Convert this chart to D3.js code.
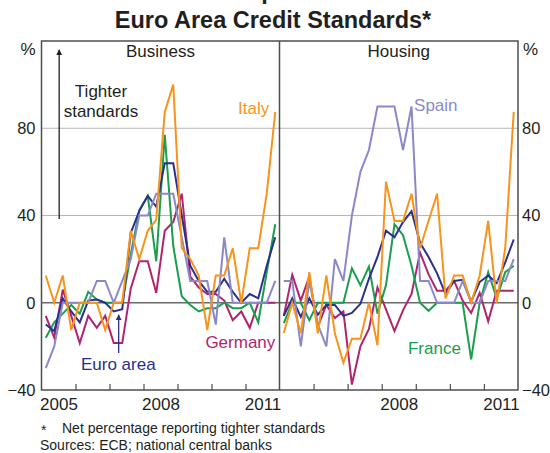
<!DOCTYPE html>
<html>
<head>
<meta charset="utf-8">
<script src="https://cdn.jsdelivr.net/npm/d3@7"></script>
<style>
  html, body { margin: 0; padding: 0; background: #fff; }
  svg { display: block; font-family: Arial, 'Liberation Sans', sans-serif; }
</style>
</head>
<body>
<div id="chart"></div>
<script>
/* =========================================
   Euro Area Credit Standards — two panels
   Business / Housing, quarterly net %
   ========================================= */

const quarters = [
  '2005Q1', '2005Q2', '2005Q3', '2005Q4', '2006Q1', '2006Q2', '2006Q3', '2006Q4',
  '2007Q1', '2007Q2', '2007Q3', '2007Q4', '2008Q1', '2008Q2', '2008Q3', '2008Q4',
  '2009Q1', '2009Q2', '2009Q3', '2009Q4', '2010Q1', '2010Q2', '2010Q3', '2010Q4',
  '2011Q1', '2011Q2', '2011Q3', '2011Q4'
];

// ---- Business ----
const businessEuro    = [-10, -13, 2, -4, -9, 1, 1.5, 0, -4, -3, 32, 42, 49, 44, 64, 64, 40, 17, 10, 5, 5, 11, 5, 0, 4, 2, 17, 30];
const businessGermany = [-6, -16, 6, -6, -18.5, -6, -11.5, -6, -18.5, -18.5, 6.5, 19, 19, 4.5, 33, 37, 50, 12, 7, 4, 4, 1, -8, -4, -11.5, 0, 0, 0];
const businessFrance  = [-16, -9, -5, -1, -5, 5, 1.5, 0, 0, 0, 22, 42.5, 49, 19, 77, 26, 3, -1, -4, -2.5, -2.5, 0, -2.5, -2.5, 0, -9, 14, 36];
const businessItaly   = [12.5, 0, 12.5, -12.5, 0, 0, 0, -12.5, 0, 0, 33, 20, 33, 38, 87.5, 100, 25, 20, 12.5, -12.5, 12.5, 12.5, 25, 0, 25, 25, 50, 87.5];
const businessSpain   = [-30, -20, 0, 0, 0, 0, 10, 10, 0, 10, 20, 40, 40, 50, 50, 50, 30, 10, 10, 10, -10, 30, 0, 0, 0, 0, 0, 10];

// ---- Housing ----
const housingEuro    = [-6, 2, -6.5, 2, -5.5, -1, -1, -6, -4.7, -0.5, 11, 21, 33, 30, 37, 42, 27.5, 21, 13.5, 4, 10, 10.5, 0.5, 9.5, 12.5, 9, 18.5, 29];
const housingGermany = [-6, 12.8, 1, 12, -11, -1, -7, -4, -37.5, -20, -12, 7, -3, -13, -3.5, 4, 23, 13, 5.5, 5.5, 10, 1, -4.7, 4.5, -8.5, 5.5, 5.5, 5.5];
const housingFrance  = [-9.3, 0, 0, -8, 0, 0, 0, 0, 15.8, 8, 16.6, -5, 8, 36, 31, 17, 0, -3.7, 0, 0, 0, 0, -26, 0, 14, 2, 14, 17];
const housingItaly   = [-13.9, 0, -14, 14, -14, 12.5, -14, -27.5, -16.5, -16.5, 0, -19.5, 55.5, 37.5, 37.5, 50, 25, 37.5, 50, 2, 12.5, 12.5, 0, 12.5, 37.5, 0, 25, 87.5];
const housingSpain   = [10, 10, -20, 10, -10, -20, 20, 10, 40, 60, 70, 90, 90, 90, 70, 90, 10, 10, 0, 0, 0, 10, 0, 0, 10, 10, 10, 20];

const yTicks = [-40, 0, 40, 80];
const yearTicks = [2006, 2007, 2008, 2009, 2010, 2011];
const businessYearLabels = [2005, 2008, 2011];
const housingYearLabels = [2008, 2011];

const colors = {
  euro: '#2b2f8c',
  germany: '#b0246f',
  france: '#1a9e4b',
  italy: '#f7941d',
  spain: '#8b88c9'
};
const textColor = '#231f20';

const width = 550, height = 453;
const plot = { left: 41.5, mid: 279.5, right: 518, top: 41, bottom: 390 };

const svg = d3.select('#chart').append('svg')
  .attr('width', width).attr('height', height);

const y = d3.scaleLinear().domain([-40, 120]).range([plot.bottom, plot.top]);

// fractional year at the middle of a quarter
const qx = q => +q.slice(0, 4) + (+q.slice(5) - 1) / 4 + 0.125;

const panels = [
  {
    name: 'Business', left: plot.left, right: plot.mid, yearLabels: businessYearLabels,
    series: [
      ['germany', businessGermany], ['france', businessFrance], ['euro', businessEuro],
      ['spain', businessSpain], ['italy', businessItaly]
    ]
  },
  {
    name: 'Housing', left: plot.mid, right: plot.right, yearLabels: housingYearLabels,
    series: [
      ['germany', housingGermany], ['france', housingFrance], ['euro', housingEuro],
      ['spain', housingSpain], ['italy', housingItaly]
    ]
  }
];

// ---- Titles ----
// graph number line sits above the crop, only the 'p' descender shows
svg.append('text')
  .attr('x', 275).attr('y', -1.5)
  .attr('text-anchor', 'middle')
  .attr('font-size', '23.5px').attr('font-weight', 'bold')
  .attr('fill', textColor)
  .text('Graph 2.4');

svg.append('text')
  .attr('x', 273).attr('y', 28)
  .attr('text-anchor', 'middle')
  .attr('font-size', '23.5px').attr('font-weight', 'bold')
  .attr('fill', textColor)
  .text('Euro Area Credit Standards*');

panels.forEach(p => {
  const x = d3.scaleLinear().domain([2005, 2012]).range([p.left, p.right]);
  p.x = x;
  const g = svg.append('g');

  // Grid
  g.append('g')
    .selectAll('line').data([40, 80]).join('line')
    .attr('x1', p.left).attr('x2', p.right)
    .attr('y1', d => y(d)).attr('y2', d => y(d))
    .attr('stroke', '#b5b5b5').attr('stroke-width', 1);

  g.append('line')
    .attr('x1', p.left).attr('x2', p.right)
    .attr('y1', y(0)).attr('y2', y(0))
    .attr('stroke', '#6a6a6a').attr('stroke-width', 1.6);

  // Year ticks (boundaries)
  g.append('g')
    .attr('transform', `translate(0,${plot.bottom})`)
    .call(d3.axisBottom(x).tickValues(yearTicks).tickSize(-6).tickFormat(''))
    .call(a => a.select('.domain').remove())
    .call(a => a.selectAll('line').attr('stroke', '#4d4d4d').attr('stroke-width', 1.2));

  // Year labels (centred in year)
  g.append('g')
    .attr('transform', `translate(0,${plot.bottom})`)
    .call(d3.axisBottom(x).tickValues(p.yearLabels.map(v => v + 0.5)).tickSize(0).tickPadding(8)
      .tickFormat(d => Math.floor(d)))
    .call(a => a.select('.domain').remove())
    .call(a => a.selectAll('text')
      .attr('font-family', 'Arial, "Liberation Sans", sans-serif')
      .attr('font-size', '17px').attr('fill', textColor));

  // Lines
  const line = d3.line()
    .x((d, i) => x(qx(quarters[i])))
    .y(d => y(d));

  g.append('g')
    .selectAll('path').data(p.series).join('path')
    .attr('d', d => line(d[1]))
    .attr('fill', 'none')
    .attr('stroke', d => colors[d[0]])
    .attr('stroke-width', 2);

  // Panel heading
  g.append('text')
    .attr('x', (p.left + p.right) / 2).attr('y', 57)
    .attr('text-anchor', 'middle')
    .attr('font-size', '17px')
    .attr('fill', textColor)
    .text(p.name);
});

// ---- Frame ----
svg.append('rect')
  .attr('x', plot.left).attr('y', plot.top)
  .attr('width', plot.right - plot.left).attr('height', plot.bottom - plot.top)
  .attr('fill', 'none').attr('stroke', '#4d4d4d').attr('stroke-width', 1.5);

svg.append('line')
  .attr('x1', plot.mid).attr('x2', plot.mid)
  .attr('y1', plot.top).attr('y2', plot.bottom)
  .attr('stroke', '#4d4d4d').attr('stroke-width', 1.5);

// ---- Y axes ----
[[d3.axisLeft, plot.left, 6], [d3.axisRight, plot.right, 4]].forEach(([axis, pos, pad]) => {
  svg.append('g')
    .attr('transform', `translate(${pos},0)`)
    .call(axis(y).tickValues(yTicks).tickSize(0).tickPadding(pad))
    .call(a => a.select('.domain').remove())
    .call(a => a.selectAll('text')
      .attr('font-family', 'Arial, "Liberation Sans", sans-serif')
      .attr('font-size', '16.5px').attr('fill', textColor));
});

svg.append('text')
  .attr('x', plot.left - 6).attr('y', 55)
  .attr('text-anchor', 'end').attr('font-size', '17px').attr('fill', textColor)
  .text('%');
svg.append('text')
  .attr('x', plot.right + 5).attr('y', 55)
  .attr('text-anchor', 'start').attr('font-size', '17px').attr('fill', textColor)
  .text('%');

// ---- Annotations ----
const bx = panels[0].x, hx = panels[1].x;

const labels = [
  { x: bx(2011.70), y: y(86.4), anchor: 'end', color: colors.italy, text: 'Italy' },
  { x: bx(2009.82), y: y(-20.6), anchor: 'start', color: colors.germany, text: 'Germany' },
  { x: bx(2006.16), y: y(-31), anchor: 'start', color: colors.euro, text: 'Euro area' },
  { x: hx(2008.95), y: y(87.8), anchor: 'start', color: colors.spain, text: 'Spain' },
  { x: hx(2008.77), y: y(-23.3), anchor: 'start', color: colors.france, text: 'France' },
  { x: bx(2006.75), y: y(94.2), anchor: 'middle', color: textColor, text: 'Tighter' },
  { x: bx(2006.75), y: y(85), anchor: 'middle', color: textColor, text: 'standards' }
];

svg.append('g')
  .selectAll('text').data(labels).join('text')
  .attr('x', d => d.x).attr('y', d => d.y)
  .attr('text-anchor', d => d.anchor)
  .attr('font-size', '17px')
  .attr('fill', d => d.color)
  .text(d => d.text);

// Arrows
const defs = svg.append('defs');
[['arrowDark', textColor], ['arrowEuro', colors.euro]].forEach(([id, c]) => {
  defs.append('marker')
    .attr('id', id).attr('viewBox', '0 0 10 10')
    .attr('refX', 9).attr('refY', 5)
    .attr('markerWidth', 4.5).attr('markerHeight', 6)
    .attr('markerUnits', 'strokeWidth')
    .attr('orient', 'auto')
    .append('path').attr('d', 'M0,0 L10,5 L0,10 Z').attr('fill', c);
});

svg.append('line')
  .attr('x1', bx(2005.52)).attr('x2', bx(2005.52))
  .attr('y1', y(38.4)).attr('y2', y(116))
  .attr('stroke', textColor).attr('stroke-width', 1.3)
  .attr('marker-end', 'url(#arrowDark)');

svg.append('line')
  .attr('x1', bx(2007.27)).attr('x2', bx(2007.27))
  .attr('y1', y(-23)).attr('y2', y(-5.5))
  .attr('stroke', colors.euro).attr('stroke-width', 1.3)
  .attr('marker-end', 'url(#arrowEuro)');

// ---- Footnotes ----
svg.append('text')
  .attr('x', 41).attr('y', 435)
  .attr('font-size', '14px').attr('fill', textColor)
  .text('*');
svg.append('text')
  .attr('x', 62).attr('y', 433)
  .attr('font-size', '14px').attr('fill', textColor)
  .text('Net percentage reporting tighter standards');
svg.append('text')
  .attr('x', 40).attr('y', 450)
  .attr('font-size', '14px').attr('fill', textColor)
  .text('Sources: ECB; national central banks');
</script>
</body>
</html>
